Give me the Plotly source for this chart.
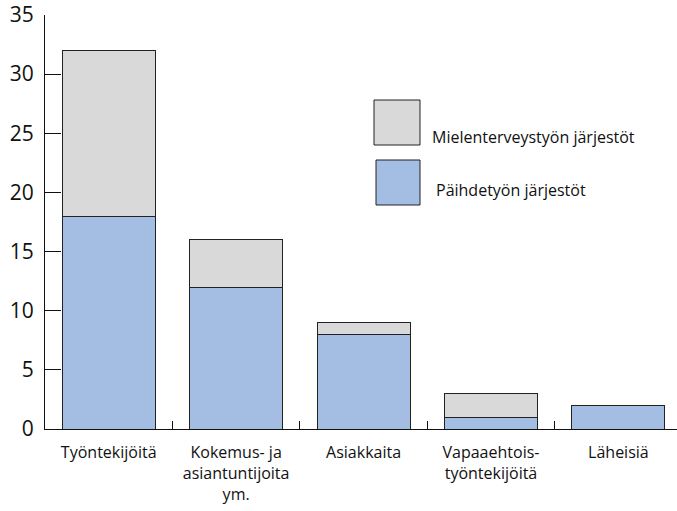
import plotly.graph_objects as go

categories = ["Työntekijöitä", "Kokemus- ja<br>asiantuntijoita<br>ym.", "Asiakkaita",
              "Vapaaehtois-<br>työntekijöitä", "Läheisiä"]
paihde = [18, 12, 8, 1, 2]
mielenterveys = [14, 4, 1, 2, 0]
series_names = ["Päihdetyön järjestöt", "Mielenterveystyön järjestöt"]
colors = ["#A4BDE3", "#D9D9D9"]

FONT = "Open Sans"
W, H = 677, 511
ML, MR, MT, MB = 45, 0, 15, 82

fig = go.Figure()
fig.add_trace(go.Bar(x=categories, y=paihde, name=series_names[0], width=0.73,
                     marker=dict(color=colors[0], line=dict(color="#222222", width=1))))
fig.add_trace(go.Bar(x=categories, y=mielenterveys, name=series_names[1], width=0.73,
                     marker=dict(color=colors[1], line=dict(color="#222222", width=1))))

pw = W - ML - MR
ph = H - MT - MB
def px(x):
    return (x - ML) / pw
def py(y):
    return (H - MB - y) / ph

# manual legend
legend_items = [
    (series_names[1], colors[1], (374, 100, 420, 145), (430, 137)),
    (series_names[0], colors[0], (376, 160, 420, 205), (434, 190)),
]
shapes = []
annotations = []
for name, col, (x0, y0, x1, y1), (tx, ty) in legend_items:
    shapes.append(dict(type="rect", xref="paper", yref="paper",
                       x0=px(x0), x1=px(x1), y0=py(y1), y1=py(y0),
                       fillcolor=col, line=dict(color="#222222", width=1)))
    annotations.append(dict(text=name, xref="paper", yref="paper", x=px(tx), y=py(ty),
                            xanchor="left", yanchor="middle", showarrow=False,
                            font=dict(family=FONT, size=16, color="#111111")))

fig.update_layout(
    barmode="stack",
    width=W, height=H,
    margin=dict(l=ML, r=MR, t=MT, b=MB, autoexpand=False),
    plot_bgcolor="white", paper_bgcolor="white",
    showlegend=False,
    shapes=shapes, annotations=annotations,
    font=dict(family=FONT, color="#111111"),
    xaxis=dict(range=[-0.5, 4.46], showline=True, linecolor="#111111", linewidth=1,
               ticks="inside", tickson="boundaries", ticklen=8, tickcolor="#111111",
               tickfont=dict(family=FONT, size=16, color="#111111"), showgrid=False,
               zeroline=False, ticklabelstandoff=9),
    yaxis=dict(range=[0, 35], dtick=5, showline=True, linecolor="#111111", linewidth=1,
               ticks="inside", ticklen=16, tickcolor="#111111",
               tickfont=dict(family=FONT, size=21, color="#111111"), showgrid=False,
               zeroline=False, ticklabelstandoff=6, ticklabeloverflow="allow"),
)

fig.write_html("out.html", config={"displayModeBar": False},
               post_script="document.body.style.margin='0';document.body.style.overflow='hidden';")
